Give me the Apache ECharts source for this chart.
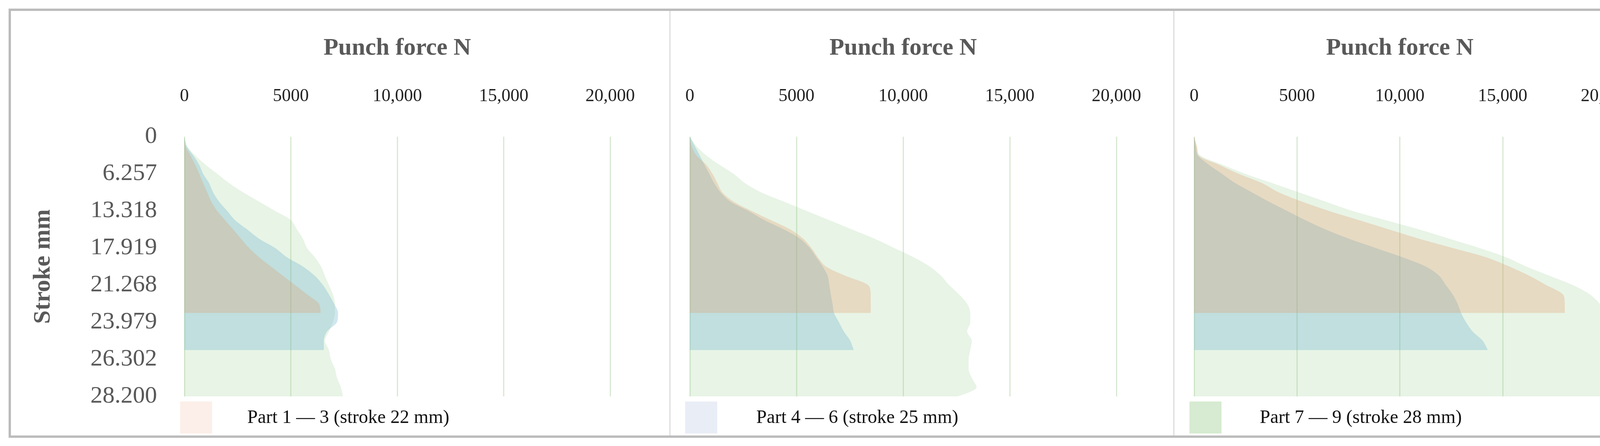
<!DOCTYPE html>
<html>
<head>
<meta charset="utf-8">
<script src="https://cdn.jsdelivr.net/npm/echarts@6/dist/echarts.min.js"></script>
<style>html,body{margin:0;padding:0;background:#fff}#main{width:4324px;height:1142px}</style>
</head>
<body>
<div id="main"></div>
<script>
// stroke samples (category index 0..28), tick labels every 4th
var stroke_labels = ['0', '6.257', '13.318', '17.919', '21.268', '23.979', '26.302', '28.200'];
var force_ticks = [0, 5000, 10000, 15000, 20000];

// panel 1: parts 1-3
var p1_orange = [0, 50, 280, 500, 700, 880, 1070, 1260, 1540, 1910, 2290, 2660, 3040, 3510, 4070, 4630, 5200, 5760, 6320, 6400];
var p1_blue = [0, 100, 410, 690, 880, 1160, 1350, 1630, 2010, 2380, 2950, 3510, 4260, 4820, 5570, 6130, 6510, 6790, 7030, 7220, 7170, 6700, 6550, 6550];
var p1_green = [0, 130, 500, 980, 1540, 2100, 2760, 3510, 4260, 5010, 5290, 5570, 5760, 6130, 6420, 6600, 6790, 6980, 7070, 7070, 6980, 6790, 6600, 6790, 6880, 7070, 7170, 7350, 7450];

// panel 2: parts 4-6
var p2_orange = [0, 80, 300, 760, 1060, 1290, 1520, 2050, 2890, 3800, 4710, 5320, 5700, 6000, 6380, 7300, 8360, 8480, 8480, 8480];
var p2_blue = [0, 230, 460, 680, 910, 1140, 1440, 1900, 2740, 3500, 4410, 5170, 5620, 5930, 6230, 6460, 6540, 6610, 6690, 6760, 6990, 7220, 7520, 7680];
var p2_green = [0, 300, 760, 1370, 2050, 2580, 3340, 4410, 5470, 6540, 7600, 8660, 9580, 10490, 11250, 11780, 12160, 12620, 13000, 13150, 13150, 13000, 13220, 13150, 13070, 13070, 13220, 13450, 12540];

// panel 3: parts 7-9
var p3_orange = [0, 130, 210, 1190, 2160, 3300, 4110, 5250, 6550, 8020, 9480, 10940, 12570, 14200, 15330, 16300, 17120, 17930, 18020, 18020];
var p3_blue = [0, 80, 180, 700, 1350, 2000, 2810, 3630, 4520, 5410, 6390, 7530, 8830, 10130, 11270, 11920, 12240, 12570, 12810, 12980, 13220, 13540, 14030, 14280];
var p3_green = [0, 130, 290, 1350, 2490, 3790, 5090, 6390, 7690, 9320, 10940, 12410, 13870, 15170, 16150, 17280, 18420, 19240, 19720, 20050, 20290, 20450, 20620, 20700, 20780, 20780, 20830, 20860, 20860];

var legend_names = ['Part 1 \u2014 3 (stroke 22 mm)', 'Part 4 \u2014 6 (stroke 25 mm)', 'Part 7 \u2014 9 (stroke 28 mm)'];

var serif = '"Liberation Serif", "DejaVu Serif", serif';
var categories = [];
for (var i = 0; i <= 28; i++) categories.push(i);

var panels = [
	{left: 472, right: 1562, data: [p1_green, p1_blue, p1_orange]},
	{left: 1766, right: 2858, data: [p2_green, p2_blue, p2_orange]},
	{left: 3057, right: 4110, data: [p3_green, p3_blue, p3_orange]}
];
var fills = ['rgba(150,205,140,0.22)', 'rgba(90,170,200,0.28)', 'rgba(225,150,100,0.28)'];

var grids = [], xAxes = [], yAxes = [], series = [], graphics = [];
panels.forEach(function (p, k) {
	grids.push({left: p.left, width: p.right - p.left, top: 350, height: 665});
	xAxes.push({
		type: 'value', gridIndex: k, position: 'top', min: 0, max: 20000, interval: 5000,
		name: 'Punch force N', nameLocation: 'middle', nameGap: 195,
		nameTextStyle: {fontFamily: serif, fontWeight: 'bold', fontSize: 62, color: '#595959'},
		axisLine: {show: false}, axisTick: {show: false},
		axisLabel: {
			fontFamily: serif, fontSize: 46, color: '#222', margin: 80,
			formatter: function (v) { return v >= 10000 ? (v / 1000) + ',000' : String(v); }
		},
		splitLine: {lineStyle: {color: '#d8e8d2', width: 3}}
	});
	yAxes.push({
		type: 'category', gridIndex: k, data: categories, inverse: true, boundaryGap: false,
		name: k === 0 ? 'Stroke mm' : '', nameLocation: 'middle', nameGap: 330, nameRotate: 90,
		nameTextStyle: {fontFamily: serif, fontWeight: 'bold', fontSize: 62, color: '#595959'},
		axisLine: {show: false}, axisTick: {show: false}, splitLine: {show: false},
		axisLabel: {
			show: k === 0, interval: 3, fontFamily: serif, fontSize: 62, color: '#595959', margin: 70,
			formatter: function (v, idx) { return stroke_labels[idx / 4] || ''; }
		}
	});
	p.data.forEach(function (d, s) {
		series.push({
			type: 'line', xAxisIndex: k, yAxisIndex: k, data: d, smooth: 0.3,
			symbol: 'none', lineStyle: {width: 0}, areaStyle: {color: fills[s], opacity: 1},
			z: 2 + s
		});
	});
});

var legendBox = [
	{box: 461, text: 633, color: '#fcefe9'},
	{box: 1754, text: 1936, color: '#e9edf6'},
	{box: 3045, text: 3225, color: '#d6ebd1'}
];
legendBox.forEach(function (l, k) {
	graphics.push({type: 'rect', shape: {x: l.box, y: 1028, width: 82, height: 82}, style: {fill: l.color}});
	graphics.push({type: 'text', x: l.text, y: 1070, style: {text: legend_names[k], font: '48px ' + serif, fill: '#111', textVerticalAlign: 'middle'}});
});
graphics.push({type: 'rect', shape: {x: 25, y: 25, width: 4275, height: 1093}, style: {fill: 'none', stroke: '#bcbcbc', lineWidth: 6}, z: 100});
graphics.push({type: 'line', shape: {x1: 1715, y1: 28, x2: 1715, y2: 1115}, style: {stroke: '#dcdcdc', lineWidth: 3}});
graphics.push({type: 'line', shape: {x1: 3005, y1: 28, x2: 3005, y2: 1115}, style: {stroke: '#dcdcdc', lineWidth: 3}});

var chart = echarts.init(document.getElementById('main'));
chart.setOption({
	animation: false,
	grid: grids,
	xAxis: xAxes,
	yAxis: yAxes,
	series: series,
	graphic: graphics
});
</script>
</body>
</html>
